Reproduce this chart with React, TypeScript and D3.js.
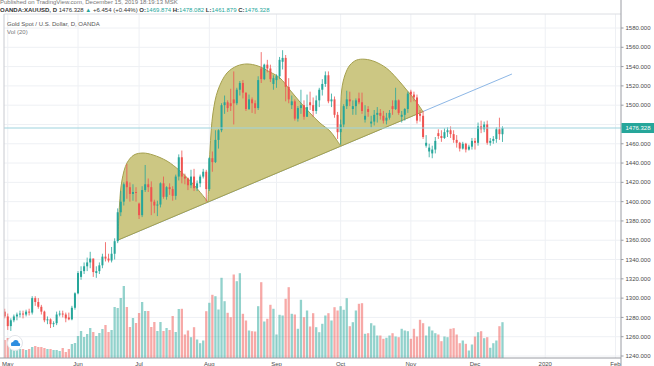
import React from "react";
import * as d3 from "d3";

// ---- data (bar index 0 = Jun 3 2019, first bar index = -24) ----
const FIRST_INDEX = -24;
const opens = [1286,1281,1271,1277,1281,1283,1284,1283,1286,1285,1300,1296,1291,1286,1277,1278,1273,1274,1283,1284,1283,1280,1278,1290,
1305,1322,1328,1333,1337,1341,1326,1328,1334,1343,1341,1339,1346,1359,1389,1400,1421,1415,1408,1410,1398,1386,1412,1418,1415,1400,1396,1397,1419,1405,1415,1413,1406,1426,
1446,1426,1424,1417,1426,1414,1419,1426,1431,1413,1445,1441,1464,1474,1500,1503,1502,1506,1502,1516,1523,1513,1496,1506,1502,1497,1538,1527,1542,1538,1522,
1526,1530,1545,1549,1519,1500,1504,1486,1497,1500,1488,1503,1500,1494,1505,1516,1522,1531,1504,1506,1490,
1472,1480,1499,1506,1496,1499,1507,1503,1485,1496,1481,1483,1490,1492,1489,1484,1487,1499,1496,1505,1488,1490,1496,
1514,1511,1508,1491,1489,1458,1452,1450,1454,1471,1468,1466,1472,1474,1470,1464,1461,1455,1460,1454,1457,
1463,1461,1478,1475,1480,1461,1463,1465,1475,1469.874];
const highs = [1289,1284,1279,1283,1285,1287,1287,1288,1289,1302,1302,1300,1293,1287,1281,1279,1276,1286,1287,1287,1285,1285,1292,1306,
1328,1333,1337,1342,1348,1341,1333,1337,1346,1358,1346,1353,1362,1393,1411,1420,1439,1420,1418,1415,1399,1416,1438,1424,1421,1402,1401,1420,1426,1416,1419,1416,1428,1449,
1453,1429,1425,1433,1434,1422,1428,1434,1433,1446,1452,1474,1475,1502,1510,1505,1517,1535,1518,1525,1526,1513,1511,1508,1505,1530,1555,1543,1547,1542,1531,
1532,1550,1557,1552,1528,1510,1506,1499,1516,1505,1511,1514,1508,1510,1518,1527,1535,1535,1512,1509,1493,
1485,1501,1515,1514,1505,1507,1513,1513,1500,1499,1489,1495,1498,1496,1494,1492,1495,1505,1518,1506,1494,1497,1514,
1516,1514,1511,1495,1494,1469,1460,1458,1467,1475,1474,1476,1477,1478,1474,1469,1462,1462,1461,1459,1466,
1466,1482,1484,1483,1484,1466,1468,1477,1487,1478.082];
const lows = [1279,1267,1266,1275,1277,1280,1279,1281,1282,1283,1292,1289,1283,1275,1273,1269,1270,1272,1281,1280,1275,1277,1277,1288,
1304,1319,1325,1328,1331,1322,1321,1325,1331,1338,1337,1337,1340,1357,1385,1396,1403,1400,1401,1400,1382,1384,1410,1410,1386,1388,1385,1394,1403,1402,1407,1401,1402,1422,
1419,1418,1412,1414,1411,1411,1415,1424,1400,1411,1431,1440,1455,1472,1491,1493,1494,1480,1500,1510,1507,1494,1495,1492,1491,1495,1523,1526,1534,1524,1516,
1518,1527,1537,1504,1502,1496,1484,1483,1491,1485,1488,1495,1488,1491,1498,1510,1519,1502,1498,1487,1465,
1459,1477,1496,1499,1490,1490,1501,1491,1482,1488,1477,1479,1482,1485,1481,1480,1485,1490,1495,1490,1482,1484,1492,
1503,1504,1481,1483,1465,1456,1446,1445,1450,1465,1462,1465,1467,1466,1461,1456,1452,1454,1451,1453,1454,
1454,1458,1471,1472,1459,1458,1460,1461,1464,1461.879];
const closes = [1281,1271,1277,1281,1283,1284,1283,1286,1285,1300,1296,1291,1286,1277,1278,1273,1274,1283,1284,1283,1279,1278,1290,1305,
1326,1328,1333,1337,1341,1327,1328,1334,1343,1341,1339,1346,1359,1389,1400,1418,1415,1408,1410,1409,1386,1412,1418,1415,1400,1396,1397,1419,1405,1415,1413,1406,1426,1446,
1426,1424,1417,1426,1414,1419,1426,1431,1413,1445,1441,1464,1474,1500,1503,1497,1499,1502,1516,1523,1513,1496,1506,1502,1497,1526,1527,1542,1538,1527,1528,
1530,1547,1549,1519,1506,1504,1486,1497,1500,1488,1498,1500,1494,1505,1516,1522,1531,1504,1506,1490,1472,
1480,1499,1506,1504,1499,1505,1503,1494,1489,1493,1483,1490,1492,1489,1484,1487,1492,1496,1505,1492,1490,1496,1512,
1511,1508,1484,1489,1467,1461,1456,1454,1463,1468,1466,1472,1474,1470,1464,1461,1455,1460,1454,1457,1463,
1461,1478,1475,1480,1461,1463,1465,1475,1470,1476.328];
// volume (ticks, thousands)
const volumesK = [18,20,14,12,10,9,9,8,9,11,12,11,11,10,9,9,8,8,7,10,6,9,14,15,
22,27,21,24,30,26,22,25,29,33,26,28,51,50,60,72,51,31,40,35,45,56,47,47,31,36,27,36,27,30,28,42,26,49,
49.2,23.5,27.5,20.8,30.8,18.5,14.8,17.5,46.8,55.2,63.2,61.8,48.5,80.2,56.8,45.2,40.8,83.5,76.8,84.8,
44.2,37.5,27.5,26.8,26.5,51.8,75.8,36.5,39.2,53.2,49.2,23.5,43.2,42.5,59.2,70.8,44.2,43.5,29.2,58.2,
40.8,47.5,31.5,44.8,30.8,25.8,34.2,42.5,44.8,37.5,50.8,47.5,51.8,48.2,59.8,31.8,35.8,47.5,54.2,54.8,
24.2,24.8,34.8,32.5,22.5,22.5,19.2,20.2,22.5,24.8,21.5,20.8,29.2,27.5,26.8,19.2,29.2,21.5,38.2,34.8,
22.5,31.5,27.5,24.8,23.5,16.8,21.5,20.8,29.2,29.8,23.5,14.8,17.5,14.2,7.5,13.5,21.5,25.8,26.8,19.8,
20.8,10.2,14.8,17.5,31.8,35.8];

const monthLabels = ["May","Jun","Jul","Aug","Sep","Oct","Nov","Dec","2020","Feb"];
const monthIndex = [-23,0,20,43,65,86,109,130,153,176];
const priceTicks = [1240,1260,1280,1300,1320,1340,1360,1380,1400,1420,1440,1460,1480,1500,1520,1540,1560,1580];
const lastPrice = 1476.328;

// drawings: [barIndex, price]
const trendLine: [number, number][] = [[13.1,1360.2],[142.1,1532.3]];
const hump1: [number, number][] = [[13.1,1360.2],[13.59,1396.5],[14.41,1422.4],[16.04,1440.1],[18.34,1448.4],[21.28,1450.4],[24.56,1448.4],[29.14,1442.1],[33.4,1431.8],[37.98,1417.3],[42.57,1399.6]];
const hump2: [number, number][] = [[42.57,1399.6],[42.73,1415.2],[43.22,1453.5],[44.2,1491.9],[45.84,1515.7],[48.79,1533.4],[52.06,1540.6],[55.34,1542.7],[58.94,1540.6],[62.87,1534.4],[66.14,1528.2],[69.42,1515.7],[72.69,1503.3],[75.97,1491.9],[79.24,1481.5],[82.51,1473.2],[84.48,1464.9],[86.02,1457.5]];
const hump3: [number, number][] = [[86.02,1457.5],[86.02,1487.7],[86.35,1515.7],[87.43,1531.3],[89.06,1541.6],[91.26,1546.8],[93.98,1547.6],[97.25,1545.1],[101.08,1538.2],[104.36,1527.9],[107.63,1515.7],[110.35,1505.4],[112.97,1493.3]];

const W = 654, H = 366;
const P = { left: 4, right: 621, top: 14, bottom: 358 };
const UP = "#26a69a", DOWN = "#ef5350";
const FONT = "'Liberation Sans', Arial, sans-serif";

export default function App() {
  const x = d3.scaleLinear().domain([0, 130]).range([78, 475]);
  const y = d3.scaleLinear().domain([1240, 1580]).range([356, 28]);
  const yv = d3.scaleLinear().domain([0, 100]).range([P.bottom, P.bottom - 100]);

  const bars = opens.map((o, k) => ({
    i: FIRST_INDEX + k, o, h: highs[k], l: lows[k], c: closes[k], v: volumesK[k],
  }));

  const curve = d3.line<[number, number]>().x(d => x(d[0])).y(d => y(d[1])).curve(d3.curveCatmullRom.alpha(0.5));
  const humps = [hump1, hump2, hump3].map(h => curve(h) + "Z");

  const bw = 2.0, vw = 2.3;
  // axis labels hidden behind the last-price tag are not drawn (as in the reference)
  const visibleTicks = priceTicks.filter(p => Math.abs(y(p) - y(lastPrice)) > 8);

  return (
    <svg width={W} height={H} style={{ position: "fixed", left: 0, top: 0, background: "#fff" }} fontFamily={FONT}>
      <defs>
        <clipPath id="plot"><rect x={P.left} y={P.top} width={P.right - P.left} height={P.bottom - P.top} /></clipPath>
      </defs>
      <rect x={0} y={0} width={W} height={H} fill="#fff" />
      {/* grid */}
      <g stroke="#eef0f4" strokeWidth={1}>
        {priceTicks.map(p => <line key={p} x1={P.left} x2={P.right} y1={y(p)} y2={y(p)} />)}
        {monthIndex.map(i => <line key={i} x1={x(i)} x2={x(i)} y1={P.top} y2={P.bottom} />)}
      </g>
      <g clipPath="url(#plot)">
        {/* volume */}
        {bars.map(b => (
          <rect key={"v" + b.i} x={x(b.i) - vw / 2} width={vw} y={yv(b.v)} height={P.bottom - yv(b.v)}
            fill={b.c >= b.o ? UP : DOWN} fillOpacity={0.5} />
        ))}
        {/* trend line */}
        <line x1={x(trendLine[0][0])} y1={y(trendLine[0][1])} x2={x(trendLine[1][0])} y2={y(trendLine[1][1])} stroke="#8db7e6" strokeWidth={1} />
        {/* humps */}
        {humps.map((d, k) => <path key={k} d={d} fill="#c9c47c" fillOpacity={0.95} stroke="#a5a04e" strokeWidth={1} />)}
        {/* candles */}
        {bars.map(b => {
          const col = b.c >= b.o ? UP : DOWN;
          const top = y(Math.max(b.o, b.c)), bot = y(Math.min(b.o, b.c));
          return (
            <g key={"c" + b.i}>
              <line x1={x(b.i)} x2={x(b.i)} y1={y(b.h)} y2={y(b.l)} stroke={col} strokeWidth={0.8} />
              <rect x={x(b.i) - bw / 2} width={bw} y={top} height={Math.max(0.8, bot - top)} fill={col} />
            </g>
          );
        })}
        {/* last price line */}
        <line x1={P.left} x2={P.right} y1={y(lastPrice)} y2={y(lastPrice)} stroke="#9ed3de" strokeWidth={1} />
      </g>
      {/* frame */}
      <line x1={P.left} x2={P.right} y1={P.top} y2={P.top} stroke="#dcdee3" />
      <line x1={P.left} x2={P.left} y1={P.top} y2={P.bottom} stroke="#c8cad0" />
      <line x1={P.right} x2={P.right} y1={0} y2={H} stroke="#9a9ca3" />
      <line x1={0} x2={P.right} y1={P.bottom} y2={P.bottom} stroke="#9a9ca3" />
      {/* price axis */}
      <g fontSize={6} fill="#4a4a4a">
        {visibleTicks.map(p => (
          <g key={p}>
            <line x1={P.right} x2={P.right + 2.5} y1={y(p)} y2={y(p)} stroke="#9a9ca3" />
            <text x={P.right + 4.5} y={y(p)} dy="0.35em">{p.toFixed(3)}</text>
          </g>
        ))}
      </g>
      <rect x={P.right + 0.5} y={y(lastPrice) - 5} width={W - P.right} height={10} fill={UP} />
      <text x={P.right + 4.5} y={y(lastPrice)} dy="0.35em" fontSize={6} fill="#fff">{lastPrice.toFixed(3)}</text>
      {/* time axis */}
      <g fontSize={6} fill="#4a4a4a" textAnchor="middle">
        {monthLabels.map((m, k) => <text key={m} x={x(monthIndex[k])} y={365.5}>{m}</text>)}
      </g>
      {/* header */}
      <text x={0} y={3.5} fontSize={6} fill="#777">Published on TradingView.com, December 15, 2019 18:19:13 MSK</text>
      <text x={0} y={11.5} fontSize={6} fill="#333">
        <tspan fontWeight="bold">OANDA:XAUUSD, D</tspan>
        <tspan> 1476.328 </tspan>
        <tspan fill={UP}>▲</tspan>
        <tspan> +6.454 (+0.44%) </tspan>
        <tspan fontWeight="bold">O:</tspan><tspan fill={UP}>1469.874 </tspan>
        <tspan fontWeight="bold">H:</tspan><tspan fill={UP}>1478.082 </tspan>
        <tspan fontWeight="bold">L:</tspan><tspan fill={UP}>1461.879 </tspan>
        <tspan fontWeight="bold">C:</tspan><tspan fill={UP}>1476.328</tspan>
      </text>
      <text x={7} y={26} fontSize={6} fill="#555">Gold Spot / U.S. Dollar, D, OANDA</text>
      <text x={7} y={34} fontSize={6} fill="#777">Vol (20)</text>
      {/* logo */}
      <g>
        <circle cx={15} cy={343} r={7.5} fill="#fff" stroke="#e3e5ea" />
        <circle cx={13} cy={344} r={2.1} fill="#2e8ee0" />
        <circle cx={15.8} cy={342.6} r={2.7} fill="#2e8ee0" />
        <circle cx={18.4} cy={344.4} r={1.7} fill="#2e8ee0" />
        <rect x={11} y={344} width={9} height={2.1} rx={1} fill="#2e8ee0" />
      </g>
    </svg>
  );
}
